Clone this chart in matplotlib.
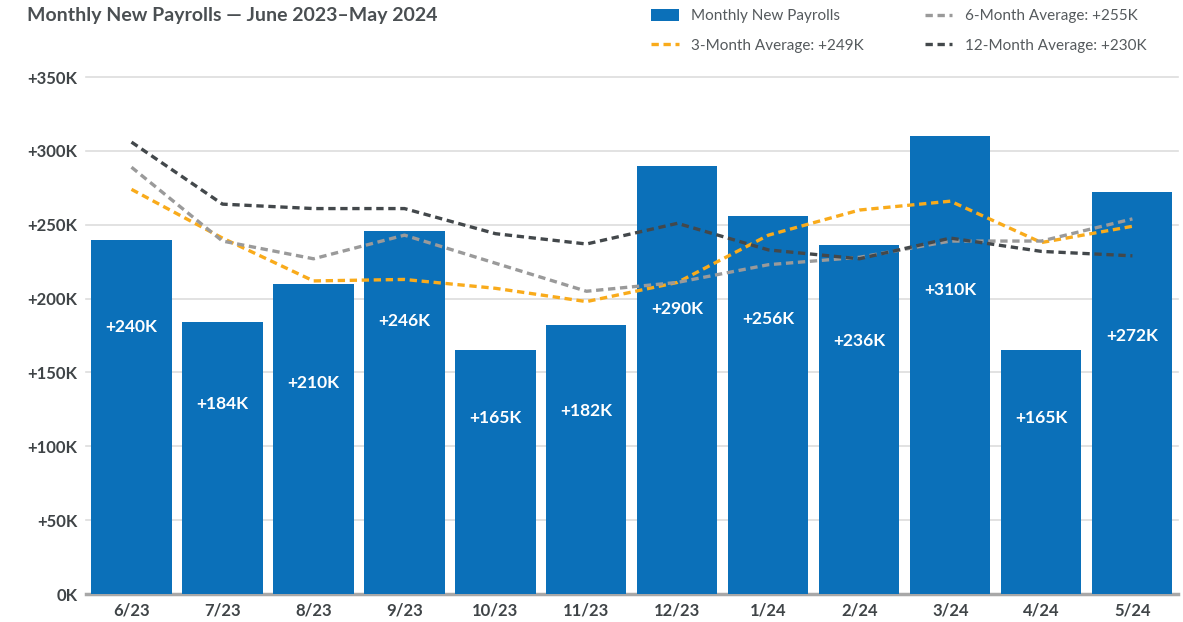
import matplotlib.pyplot as plt
import numpy as np

months = ["6/23", "7/23", "8/23", "9/23", "10/23", "11/23",
          "12/23", "1/24", "2/24", "3/24", "4/24", "5/24"]
payrolls = [240, 184, 210, 246, 165, 182, 290, 256, 236, 310, 165, 272]
avg3 = [274, 241, 212, 213, 207, 198, 211, 243, 260, 266, 238, 249]
avg6 = [289, 239, 227, 243, 224, 205, 211, 223, 228, 239, 239, 254]
avg12 = [306, 264, 261, 261, 244, 237, 251, 233, 227, 241, 232, 229]
# where the white value labels sit inside each bar
label_y = [181, 129, 143, 185, 119, 124, 193, 186, 171, 206, 119, 175]

plt.rcParams['font.family'] = ['Lato', 'DejaVu Sans']
blue = '#0b70b9'
text_c = '#3f4447'

fig = plt.figure(figsize=(11.83, 6.22), dpi=100)
ax = fig.add_axes([0.0727, 0.045, 0.923, 0.831])

x = np.arange(len(months))
bars = ax.bar(x, payrolls, width=0.88, color=blue, label="Monthly New Payrolls", zorder=2)
for xi, v, ly in zip(x, payrolls, label_y):
    ax.text(xi, ly, f"+{v}K", color='white', fontsize=12.5, fontweight='bold',
            ha='center', va='center', zorder=4)

dash = (0, (2.2, 1.4))
l3, = ax.plot(x, avg3, color='#f9ab1b', lw=2.4, linestyle=dash, zorder=3,
              label="3-Month Average: +249K")
l6, = ax.plot(x, avg6, color='#9a9a9a', lw=2.4, linestyle=dash, zorder=3,
              label="6-Month Average: +255K")
l12, = ax.plot(x, avg12, color='#43484b', lw=2.4, linestyle=dash, zorder=3,
               label="12-Month Average: +230K")

ax.set_xlim(-0.5, 11.5)
ax.set_ylim(0, 350)
yt = np.arange(0, 351, 50)
ax.set_yticks(yt)
ax.set_yticklabels([f"+{v}K" if v else "0K" for v in yt])
ax.set_xticks(x)
ax.set_xticklabels(months)
ax.tick_params(length=0, labelsize=12, labelcolor=text_c, pad=6)
for lab in ax.get_yticklabels() + ax.get_xticklabels():
    lab.set_fontweight('bold')
for s in ax.spines.values():
    s.set_visible(False)
ax.grid(axis='y', color='#dddddd', lw=1.2, zorder=0)
ax.set_axisbelow(True)
ax.axhline(0, color='#a8a8a8', lw=2.5, zorder=1, clip_on=False)
for gl in ax.get_ygridlines():
    gl.set_clip_on(False)

fig.text(0.023, 0.975, "Monthly New Payrolls — June 2023–May 2024", fontsize=14,
         fontweight='bold', color='#4a4f52', va='center', ha='left')

fig.legend([bars, l3, l6, l12], [h.get_label() for h in [bars, l3, l6, l12]],
           loc='upper left', bbox_to_anchor=(0.539, 1.008), ncol=2, frameon=False,
           fontsize=11, labelcolor='#555a5d', handlelength=1.8, handleheight=0.9,
           columnspacing=4.0, labelspacing=0.95)

fig.savefig("out.png", dpi=100)
